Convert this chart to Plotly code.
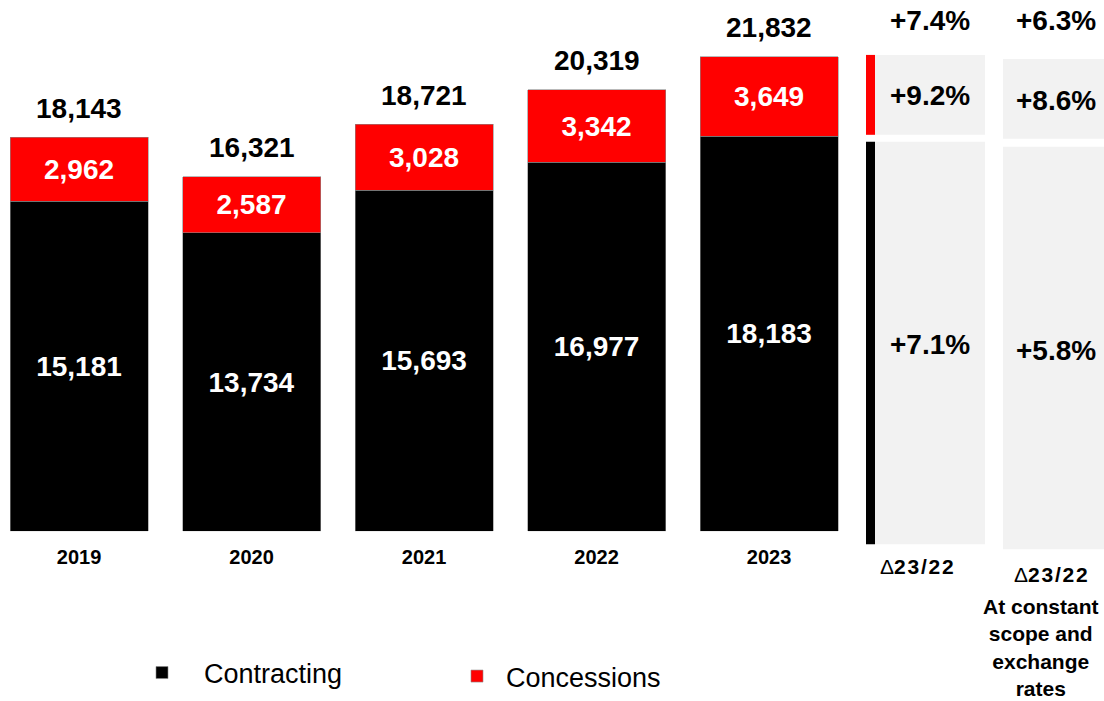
import plotly.graph_objects as go

# ---- data ----
years = ["2019", "2020", "2021", "2022", "2023"]
contracting = [15181, 13734, 15693, 16977, 18183]
concessions = [2962, 2587, 3028, 3342, 3649]
totals = [c + k for c, k in zip(contracting, concessions)]

delta_header = "Δ23/22"
delta_reported = ["+7.4%", "+9.2%", "+7.1%"]      # total, concessions, contracting
delta_constant = ["+6.3%", "+8.6%", "+5.8%"]
constant_note = "At constant<br>scope and<br>exchange<br>rates"

W, H = 1104, 701
FONT = "Liberation Sans, Arial, sans-serif"
RED = "#FF0000"
BLACK = "#000000"
GRAY = "#F2F2F2"


def px(x):
    return x / W


def py(y):
    return 1 - y / H


fig = go.Figure()
fig.add_trace(go.Bar(
    x=years, y=contracting, name="Contracting", legend="legend",
    marker=dict(color=BLACK, line=dict(color="#8a8a8a", width=0.6)),
    width=0.8, texttemplate="%{y:,.0f}", textposition="inside",
    insidetextanchor="middle", textangle=0,
    textfont=dict(family=FONT, size=28, color="white", weight="bold"),
    hoverinfo="skip",
))
fig.add_trace(go.Bar(
    x=years, y=concessions, name="Concessions", legend="legend2",
    marker=dict(color=RED, line=dict(color="#8a8a8a", width=0.6)),
    width=0.8, texttemplate="%{y:,.0f}", textposition="inside",
    insidetextanchor="middle", textangle=0,
    textfont=dict(family=FONT, size=28, color="white", weight="bold"),
    hoverinfo="skip",
))

annotations = []
for i, t in enumerate(totals):
    annotations.append(dict(
        x=i, y=t, xref="x", yref="y", text=f"{t:,}", showarrow=False,
        xanchor="center", yanchor="middle", yshift=29,
        font=dict(family=FONT, size=28, color="black", weight="bold"),
    ))

shapes = []
# right panel: reported variation column
shapes += [
    dict(type="rect", xref="paper", yref="paper", x0=px(866), x1=px(875), y0=py(135), y1=py(55),
         fillcolor=RED, line_width=0, layer="below"),
    dict(type="rect", xref="paper", yref="paper", x0=px(875), x1=px(985), y0=py(135), y1=py(55),
         fillcolor=GRAY, line_width=0, layer="below"),
    dict(type="rect", xref="paper", yref="paper", x0=px(866), x1=px(875), y0=py(545), y1=py(142),
         fillcolor=BLACK, line_width=0, layer="below"),
    dict(type="rect", xref="paper", yref="paper", x0=px(875), x1=px(985), y0=py(545), y1=py(142),
         fillcolor=GRAY, line_width=0, layer="below"),
    # constant scope column
    dict(type="rect", xref="paper", yref="paper", x0=px(1003), x1=px(1110), y0=py(139), y1=py(59),
         fillcolor=GRAY, line_width=0, layer="below"),
    dict(type="rect", xref="paper", yref="paper", x0=px(1003), x1=px(1110), y0=py(550), y1=py(147),
         fillcolor=GRAY, line_width=0, layer="below"),
]

pct_font = dict(family=FONT, size=28, color="black", weight="bold")
for (xc, ys), vals in [((930, (21, 96, 345)), delta_reported), ((1056, (21, 101, 351)), delta_constant)]:
    for yv, v in zip(ys, vals):
        annotations.append(dict(x=px(xc), y=py(yv), xref="paper", yref="paper", text=v,
                                showarrow=False, xanchor="center", yanchor="middle", font=pct_font))

hdr = "Δ" + "<b>" + "\u200a".join(list(delta_header[1:])) + "</b>"
annotations.append(dict(x=px(917), y=py(567), xref="paper", yref="paper", text=hdr, showarrow=False,
                        xanchor="center", yanchor="middle",
                        font=dict(family=FONT, size=21, color="black")))
annotations.append(dict(x=px(1051), y=py(575), xref="paper", yref="paper", text=hdr, showarrow=False,
                        xanchor="center", yanchor="middle",
                        font=dict(family=FONT, size=21, color="black")))
annotations.append(dict(x=px(1041), y=py(648), xref="paper", yref="paper", text=constant_note,
                        showarrow=False, xanchor="center", yanchor="middle", align="center",
                        font=dict(family=FONT, size=21, color="black", weight="bold")))

fig.update_layout(
    width=W, height=H, autosize=False,
    margin=dict(l=0, r=0, t=0, b=0, pad=0),
    paper_bgcolor="white", plot_bgcolor="white",
    barmode="stack", bargap=0.2,
    xaxis=dict(domain=[0, 856 / W], type="category", range=[-0.458, 4.504],
               showgrid=False, zeroline=False, showline=False, ticks="",
               tickfont=dict(family=FONT, size=20, color="black", weight="bold"),
               ticklabelstandoff=12, fixedrange=True),
    yaxis=dict(domain=[(H - 532) / H, 1], range=[0, 24450], visible=False, fixedrange=True),
    showlegend=True,
    legend=dict(orientation="h", x=px(120), y=py(673), xanchor="left", yanchor="middle",
                font=dict(family=FONT, size=27, color="black"), itemwidth=74,
                bgcolor="rgba(0,0,0,0)"),
    legend2=dict(orientation="h", x=px(448), y=py(677), xanchor="left", yanchor="middle",
                 font=dict(family=FONT, size=27, color="black"), itemwidth=48,
                 bgcolor="rgba(0,0,0,0)"),
    annotations=annotations,
    shapes=shapes,
)

fig.write_html("out.html")
